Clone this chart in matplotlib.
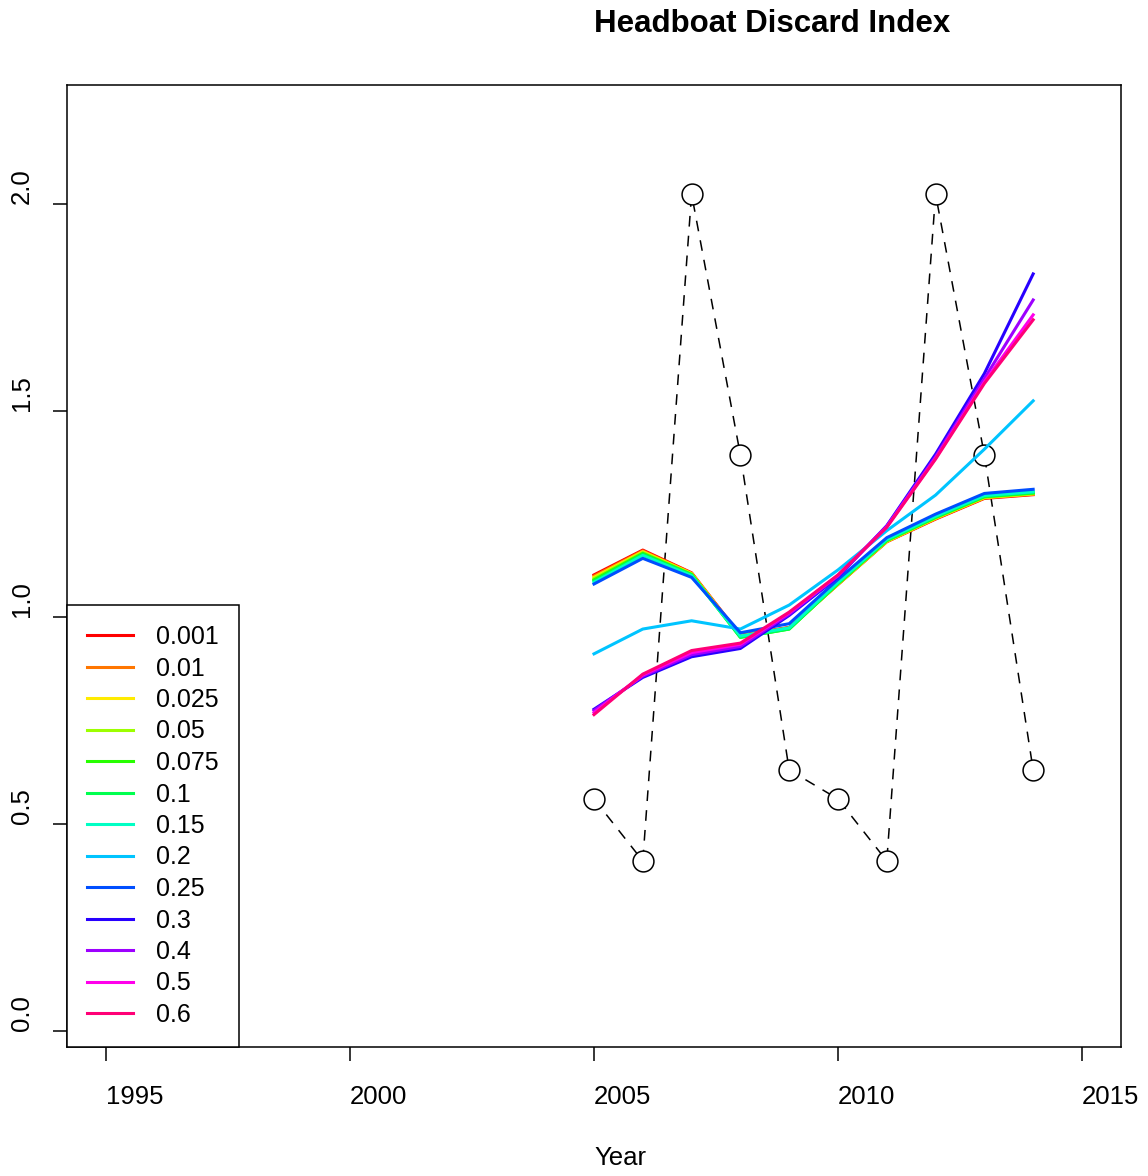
import matplotlib.pyplot as plt

plt.rcParams['font.family'] = ['Liberation Sans', 'DejaVu Sans']

years = [2005, 2006, 2007, 2008, 2009, 2010, 2011, 2012, 2013, 2014]
obs = [0.561, 0.411, 2.024, 1.393, 0.631, 0.561, 0.411, 2.024, 1.393, 0.631]

labels = ['0.001', '0.01', '0.025', '0.05', '0.075', '0.1', '0.15',
          '0.2', '0.25', '0.3', '0.4', '0.5', '0.6']
# rainbow(13)
colors = ['#FF0000', '#FF7600', '#FFEB00', '#9DFF00', '#27FF00', '#00FF4E',
          '#00FFC4', '#00C4FF', '#004EFF', '#2700FF', '#9D00FF', '#FF00EB',
          '#FF0076']

# predicted index for each weight
pred = [
    [1.103, 1.163, 1.108, 0.957, 0.976, 1.080, 1.183, 1.238, 1.288, 1.297],
    [1.100, 1.161, 1.107, 0.956, 0.975, 1.080, 1.184, 1.239, 1.289, 1.298],
    [1.097, 1.159, 1.106, 0.955, 0.974, 1.081, 1.184, 1.240, 1.290, 1.299],
    [1.094, 1.157, 1.105, 0.953, 0.973, 1.081, 1.185, 1.241, 1.291, 1.300],
    [1.091, 1.155, 1.104, 0.952, 0.972, 1.082, 1.186, 1.242, 1.292, 1.301],
    [1.088, 1.153, 1.103, 0.952, 0.972, 1.083, 1.187, 1.243, 1.293, 1.302],
    [1.085, 1.150, 1.101, 0.955, 0.975, 1.085, 1.189, 1.245, 1.295, 1.304],
    [0.912, 0.972, 0.992, 0.972, 1.030, 1.115, 1.210, 1.296, 1.407, 1.524],
    [1.081, 1.143, 1.097, 0.963, 0.985, 1.092, 1.193, 1.250, 1.300, 1.310],
    [0.778, 0.855, 0.905, 0.925, 1.005, 1.098, 1.222, 1.395, 1.590, 1.831],
    [0.775, 0.858, 0.910, 0.930, 1.008, 1.100, 1.221, 1.389, 1.578, 1.768],
    [0.770, 0.861, 0.915, 0.935, 1.011, 1.102, 1.219, 1.385, 1.570, 1.732],
    [0.765, 0.863, 0.920, 0.938, 1.013, 1.103, 1.218, 1.383, 1.566, 1.720],
]

fig = plt.figure(figsize=(11.48, 11.76), dpi=100)
ax = fig.add_axes([67/1148, 1 - 1047/1176, (1121-67)/1148, (1047-85)/1176])

ax.plot(years, obs, color='black', lw=1.1, ls=(0, (7, 6)), marker='o',
        ms=15, mfc='white', mec='black', mew=1.1, zorder=1)

for vals, c, lab in zip(pred, colors, labels):
    ax.plot(years, vals, color=c, lw=2.2, label=lab, zorder=2)

ax.set_xlim(1994.2, 2015.8)
ax.set_ylim(-0.039, 2.288)

ax.set_xticks([1995, 2000, 2005, 2010, 2015])
ax.set_yticks([0.0, 0.5, 1.0, 1.5, 2.0])
ax.set_xticklabels(['1995', '2000', '2005', '2010', '2015'], fontsize=18.5, ha='left')
ax.set_yticklabels(['0.0', '0.5', '1.0', '1.5', '2.0'], fontsize=18.5,
                   rotation=90, va='bottom')
ax.tick_params(axis='x', length=10, width=1.1, pad=17)
ax.tick_params(axis='y', length=10, width=1.1, pad=14)
for sp in ax.spines.values():
    sp.set_linewidth(1.1)

leg = ax.legend(loc='lower left', bbox_to_anchor=(0, 0), borderaxespad=0,
                fontsize=18, fancybox=False, edgecolor='black', framealpha=1,
                handlelength=1.85, handletextpad=0.9, labelspacing=0.30,
                borderpad=0.8)
leg.get_frame().set_linewidth(1.1)

fig.text(594/1148, 1 - 24/1176, 'Headboat Discard Index', fontsize=22.5,
         fontweight='bold', ha='left', va='center')
fig.text(594/1148, 1 - 1158/1176, 'Year', fontsize=18.5, ha='left', va='center')

plt.savefig('out.png', dpi=100)
